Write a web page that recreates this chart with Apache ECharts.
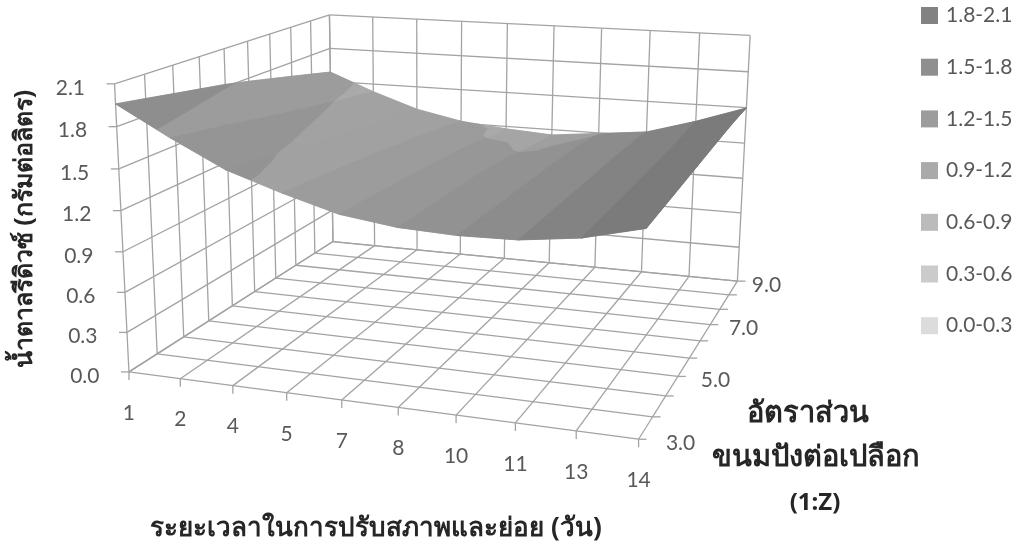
<!DOCTYPE html>
<html><head><meta charset="utf-8">
<style>html,body{margin:0;padding:0;background:#fff}#c{width:1021px;height:550px}</style>
<script src="https://cdn.jsdelivr.net/npm/echarts@6/dist/echarts.min.js"></script></head>
<body><div id="c"></div>
<script>
const categories=['1','2','4','5','7','8','10','11','13','14'];
const depthLabels=['3.0','','','5.0','','','7.0','','','9.0'];
const zTicks=['0.0','0.3','0.6','0.9','1.2','1.5','1.8','2.1'];
const bandNames=['1.8-2.1','1.5-1.8','1.2-1.5','0.9-1.2','0.6-0.9','0.3-0.6','0.0-0.3'];
const bandColors=['#828282','#8f8f8f','#9c9c9c','#aaaaaa','#bbbbbb','#cbcbcb','#dcdcdc'];
// values per depth row, front (3.0) to back (9.0), across the ten day categories
const row0=[1.960,1.750,1.558,1.430,1.319,1.266,1.249,1.258,1.309,1.410];
const row1=[1.925,1.715,1.530,1.415,1.310,1.262,1.247,1.258,1.311,1.421];
const row2=[1.889,1.680,1.500,1.395,1.300,1.258,1.245,1.258,1.313,1.432];
const row3=[1.854,1.640,1.470,1.375,1.290,1.254,1.243,1.258,1.316,1.444];
const row4=[1.819,1.600,1.435,1.355,1.280,1.250,1.240,1.258,1.319,1.455];
const row5=[1.775,1.565,1.405,1.330,1.265,1.240,1.238,1.258,1.323,1.467];
const row6=[1.728,1.530,1.375,1.305,1.250,1.225,1.235,1.258,1.328,1.478];
const row7=[1.681,1.495,1.350,1.280,1.230,1.190,1.225,1.255,1.335,1.489];
const row8=[1.633,1.465,1.325,1.250,1.190,1.170,1.215,1.250,1.345,1.495];
const row9=[1.585,1.431,1.299,1.218,1.178,1.153,1.195,1.237,1.357,1.497];
const rows=[row0,row1,row2,row3,row4,row5,row6,row7,row8,row9];
// lighting factor of each strip between neighbouring day categories
const stripLight=[1.09,1.04,1.03,1.0,0.97,0.936,0.9,0.84,0.79];

const zMax=2.1, nx=categories.length-1, ny=depthLabels.length-1;
// camera calibration: box corners [X,Y,Z] in unit cube -> page pixels
const anchors=[[0,0,0,130,372],[0,0,1,114,83],[0,1,0,332,242],[0,1,1,330,15],[1,1,0,738,280],[1,1,1,750,36],[1,0,0,638,440]];
function solveCamera(){
  const A=[],b=[];
  anchors.forEach(([X,Y,Z,u,v])=>{
    A.push([X,Y,Z,1,0,0,0,0,-u*X,-u*Y,-u*Z]);b.push(u);
    A.push([0,0,0,0,X,Y,Z,1,-v*X,-v*Y,-v*Z]);b.push(v);
  });
  const n=11,M=[];
  for(let r=0;r<n;r++){M.push([]);for(let c=0;c<n;c++){let s=0;A.forEach(a=>s+=a[r]*a[c]);M[r].push(s+(r===c?1e-9:0));}
    let s=0;A.forEach((a,k)=>s+=a[r]*b[k]);M[r].push(s);}
  for(let c=0;c<n;c++){let p=c;for(let r=c+1;r<n;r++)if(Math.abs(M[r][c])>Math.abs(M[p][c]))p=r;
    [M[c],M[p]]=[M[p],M[c]];
    for(let r=0;r<n;r++){if(r===c)continue;const f=M[r][c]/M[c][c];for(let k=c;k<=n;k++)M[r][k]-=f*M[c][k];}}
  return M.map((r,i)=>r[n]/r[i]);
}
const cam=solveCamera();
function project(i,j,z){
  const X=i/nx,Y=j/ny,Z=z/zMax,w=cam[8]*X+cam[9]*Y+cam[10]*Z+1;
  return [(cam[0]*X+cam[1]*Y+cam[2]*Z+cam[3])/w,(cam[4]*X+cam[5]*Y+cam[6]*Z+cam[7])/w];
}
// split surface triangles by value band
function clip(poly,lim,keepAbove){
  const out=[];
  for(let k=0;k<poly.length;k++){
    const a=poly[k],b=poly[(k+1)%poly.length];
    const ia=keepAbove?a[2]>=lim:a[2]<=lim, ib=keepAbove?b[2]>=lim:b[2]<=lim;
    if(ia)out.push(a);
    if(ia!==ib){const t=(lim-a[2])/(b[2]-a[2]);out.push([a[0]+t*(b[0]-a[0]),a[1]+t*(b[1]-a[1]),lim]);}
  }
  return out;
}
function scale(hex,f){const v=Math.max(0,Math.min(255,Math.round(parseInt(hex.slice(1,3),16)*f)));return 'rgb('+v+','+v+','+v+')';}
const bandPolys=bandNames.map(()=>[]);
const baseQuads=[];
for(let j=ny-1;j>=0;j--)for(let i=0;i<nx;i++){
  const p00=[i,j,rows[j][i]],p10=[i+1,j,rows[j][i+1]],p01=[i,j+1,rows[j+1][i]],p11=[i+1,j+1,rows[j+1][i+1]];
  const mean=(p00[2]+p10[2]+p01[2]+p11[2])/4;
  const bi=Math.max(0,Math.min(bandNames.length-1,bandNames.length-1-Math.floor(mean/0.3)));
  baseQuads.push({pts:[p00,p10,p11,p01],c:scale(bandColors[bi],stripLight[i])});
  [[p00,p10,p11],[p00,p11,p01]].forEach(tri=>{
    bandNames.forEach((nm,b)=>{
      const hi=0.3*(bandNames.length-b),lo=hi-0.3;
      let poly=clip(tri,hi,false);
      if(poly.length)poly=clip(poly,lo,true);
      if(poly.length>2)bandPolys[b].push({pts:poly,f:stripLight[i]});
    });
  });
}
// box grid lines in model coordinates
const gridLines=[];
zTicks.forEach((t,k)=>{const z=k*0.3;
  gridLines.push([[0,0,z],[0,ny,z]]);gridLines.push([[0,ny,z],[nx,ny,z]]);});
categories.forEach((c,i)=>{gridLines.push([[i,0,0],[i,ny,0]]);gridLines.push([[i,ny,0],[i,ny,zMax]]);});
depthLabels.forEach((d,j)=>{gridLines.push([[0,j,0],[nx,j,0]]);gridLines.push([[0,j,0],[0,j,zMax]]);});

const LINE='#a3a3a3',TXT='#595959',FONT='21px Lato';
const series=[];
const idx=list=>list.map(()=>[-1]);
series.push({type:'custom',coordinateSystem:'cartesian2d',silent:true,z:1,clip:false,
  data:idx(gridLines),
  renderItem(p,api){const l=gridLines[p.dataIndex];
    return {type:'polyline',shape:{points:l.map(q=>api.coord(project(q[0],q[1],q[2])))},style:{stroke:LINE,lineWidth:1.3,fill:null}};}});
series.push({type:'custom',coordinateSystem:'cartesian2d',silent:true,z:2,clip:false,
  data:idx(baseQuads),
  renderItem(p,api){const q=baseQuads[p.dataIndex];
    return {type:'polygon',shape:{points:q.pts.map(v=>api.coord(project(v[0],v[1],v[2])))},style:{fill:q.c,stroke:q.c,lineWidth:0.6}};}});
bandNames.forEach((nm,b)=>{
  series.push({type:'custom',name:nm,coordinateSystem:'cartesian2d',silent:true,z:3,clip:false,
    itemStyle:{color:bandColors[b]},
    data:idx(bandPolys[b]),
    renderItem(p,api){const q=bandPolys[b][p.dataIndex],c=scale(bandColors[b],q.f);
      return {type:'polygon',shape:{points:q.pts.map(v=>api.coord(project(v[0],v[1],v[2])))},style:{fill:c,stroke:c,lineWidth:0.6}};}});
});
// tick marks and tick labels
function tickGroup(kind,n,api){
  let a,dx=0,dy=0,txt,lx,ly,align='center';
  if(kind==='z'){a=api.coord(project(0,0,n*0.3));dx=-8;txt=zTicks[n];lx=a[0]-29.5;ly=a[1]+4;align='right';}
  if(kind==='x'){a=api.coord(project(n,0,0));dy=8;txt=categories[n];lx=a[0];ly=a[1]+41;}
  if(kind==='y'){a=api.coord(project(nx,n,0));dx=8;txt=depthLabels[n];lx=a[0]+42-13*n/ny;ly=a[1]+4;}
  return {type:'group',children:[
    {type:'line',shape:{x1:a[0],y1:a[1],x2:a[0]+dx,y2:a[1]+dy},style:{stroke:LINE,lineWidth:1.3}},
    {type:'text',x:lx,y:ly,style:{text:txt,fill:TXT,font:FONT,textAlign:align,textVerticalAlign:'middle'}}]};
}
const tickItems=[];
zTicks.forEach((t,k)=>tickItems.push(['z',k]));
categories.forEach((t,k)=>tickItems.push(['x',k]));
depthLabels.forEach((t,k)=>tickItems.push(['y',k]));
series.push({type:'custom',coordinateSystem:'cartesian2d',silent:true,z:4,clip:false,
  data:idx(tickItems),
  renderItem(p,api){const t=tickItems[p.dataIndex];return tickGroup(t[0],t[1],api);}});

const titleFont=s=>'bold '+s+'px "Noto Sans",sans-serif';
const chart=echarts.init(document.getElementById('c'));
chart.setOption({
  animation:false,backgroundColor:'#fff',
  grid:{left:0,top:0,width:1021,height:550},
  xAxis:{type:'value',min:0,max:1021,show:false},
  yAxis:{type:'value',min:0,max:550,inverse:true,show:false},
  legend:{data:bandNames,orient:'vertical',left:921,top:5,padding:0,itemWidth:17,itemHeight:17,itemGap:30.7,icon:'rect',selectedMode:false,
    textStyle:{color:TXT,fontFamily:'Lato',fontSize:21,lineHeight:21,padding:[0,0,0,3]}},
  graphic:[
    {type:'text',x:25,y:229,rotation:Math.PI/2,style:{text:'น้ำตาลรีดิวซ์ (กรัมต่อลิตร)',font:titleFont(25),fill:'#262626',textAlign:'center',textVerticalAlign:'middle'}},
    {type:'text',x:376,y:529,style:{text:'ระยะเวลาในการปรับสภาพและย่อย (วัน)',font:titleFont(26),fill:'#262626',textAlign:'center',textVerticalAlign:'middle'}},
    {type:'text',x:808,y:414,style:{text:'อัตราส่วน',font:titleFont(29),fill:'#262626',textAlign:'center',textVerticalAlign:'middle'}},
    {type:'text',x:816,y:458,style:{text:'ขนมปังต่อเปลือก',font:titleFont(29),fill:'#262626',textAlign:'center',textVerticalAlign:'middle'}},
    {type:'text',x:815,y:503,style:{text:'(1:Z)',font:titleFont(24),fill:'#262626',textAlign:'center',textVerticalAlign:'middle'}}
  ],
  series
});
</script></body></html>
